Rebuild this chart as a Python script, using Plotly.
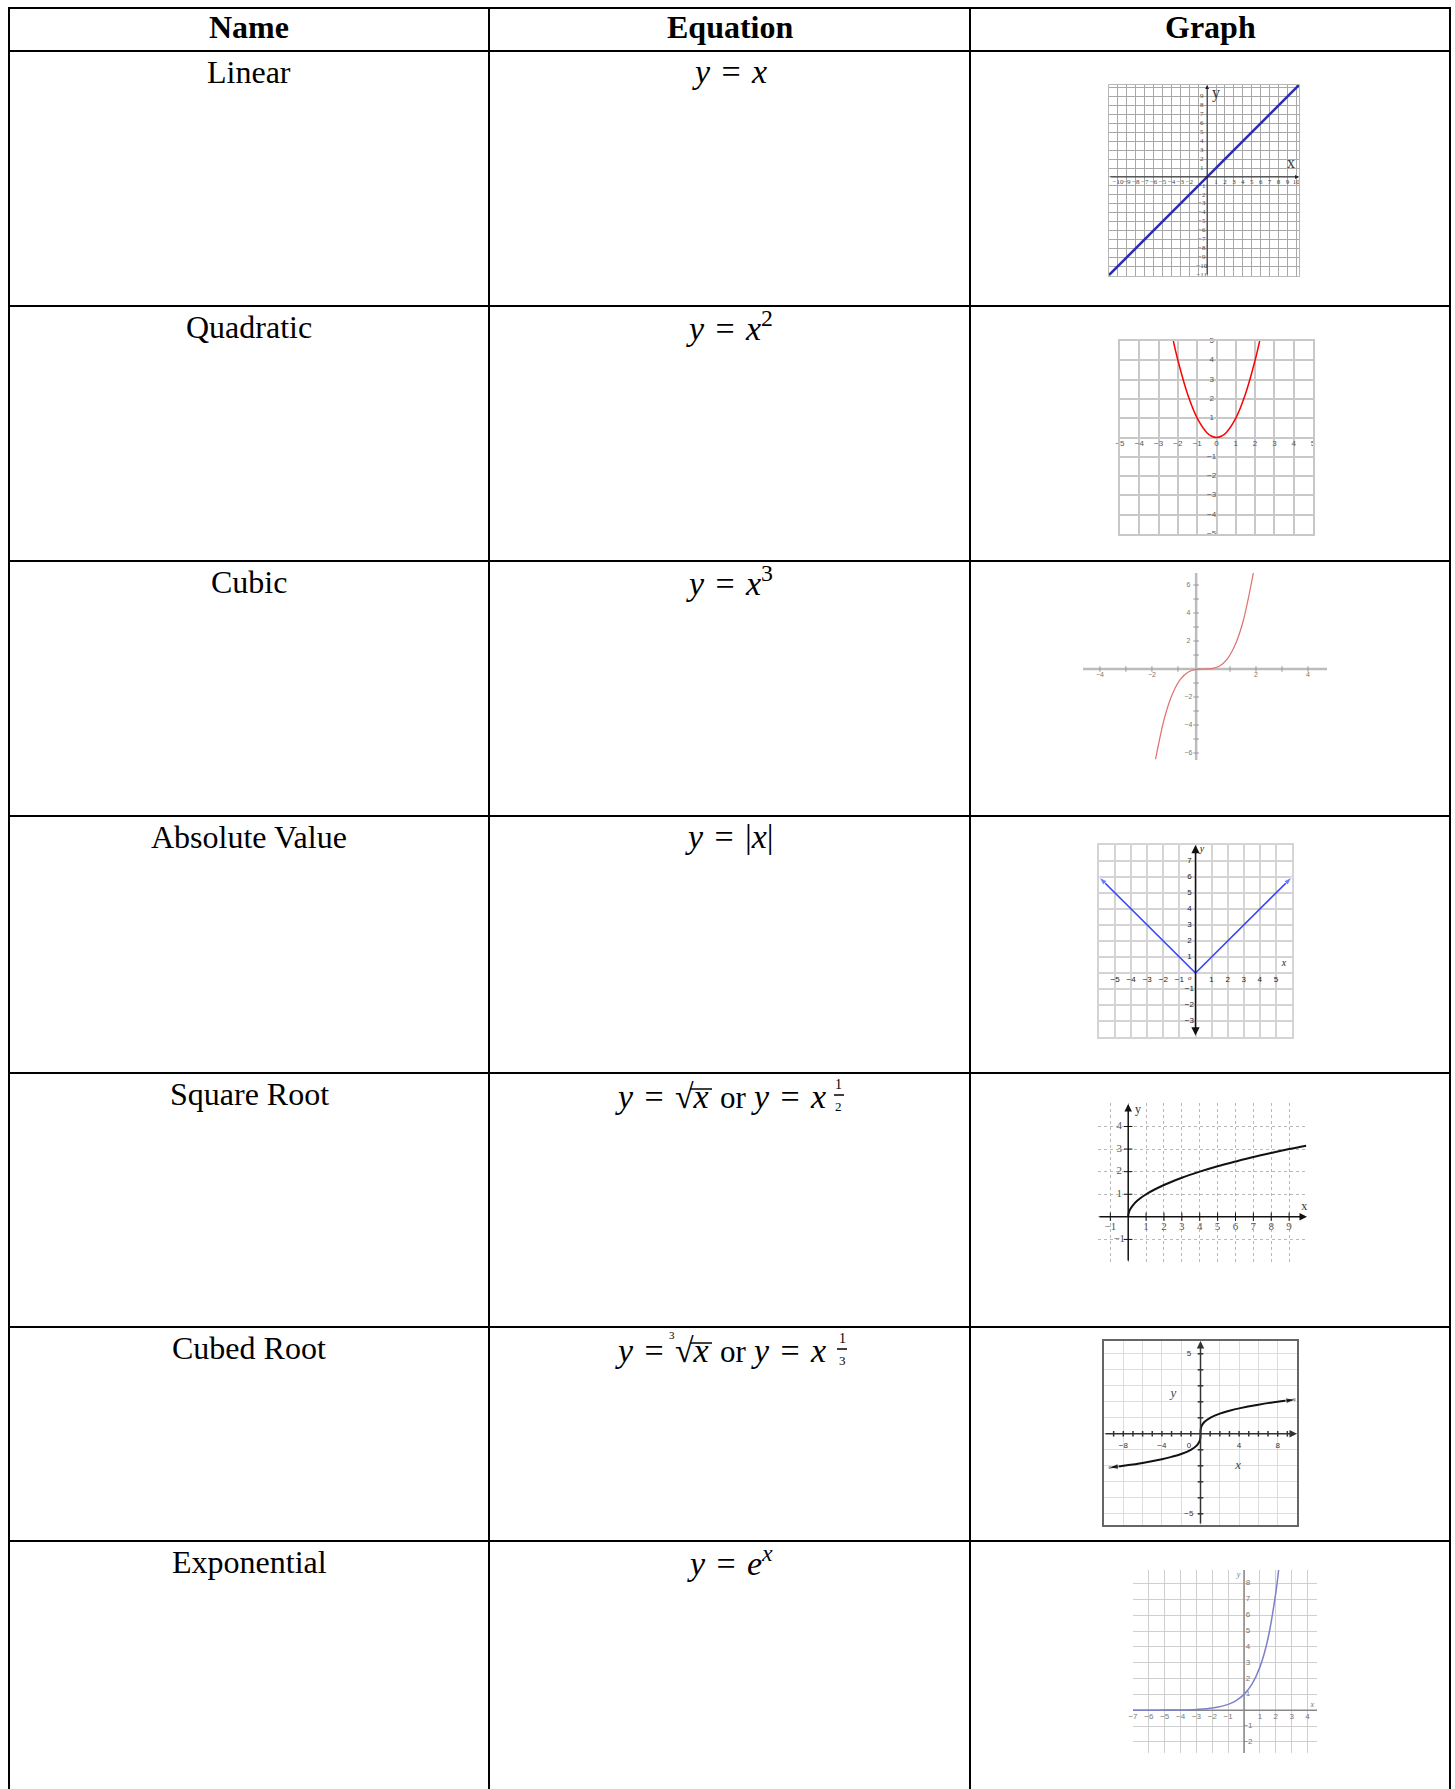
import plotly.graph_objects as go

W, H = 1455, 1789
SERIF = "Liberation Serif"
SANS = "Liberation Sans"
S = "\u2004"
M = "\u2212"

# ---------------- table text ----------------
headers = ["Name", "Equation", "Graph"]
names = ["Linear", "Quadratic", "Cubic", "Absolute Value", "Square Root", "Cubed Root", "Exponential"]
equations = [
    f"<i>y</i>{S}={S}<i>x</i>",
    f"<i>y</i>{S}={S}<i>x</i><sup>2</sup>",
    f"<i>y</i>{S}={S}<i>x</i><sup>3</sup>",
    f"<i>y</i>{S}={S}|<i>x</i>|",
    None,
    None,
    f"<i>y</i>{S}={S}<i>e</i><sup><i>x</i></sup>",
]
# (left part, root index, "or", right part, numerator, denominator)
root_eqs = [
    (f"<i>y</i>{S}={S}\u221a<i>x</i>", "", "or", f"<i>y</i>{S}={S}<i>x</i>", "1", "2"),
    (f"<i>y</i>{S}={S}\u221a<i>x</i>", "3", "or", f"<i>y</i>{S}={S}<i>x</i>", "1", "3"),
]

# ---------------- graph data ----------------
lin_x = [-11, 10.3]
lin_y = [-11, 10.3]

quad_x = [-2.236, -2, -1.5, -1, -0.5, -0.25, 0, 0.25, 0.5, 1, 1.5, 2, 2.236]
quad_y = [5, 4, 2.25, 1, 0.25, 0.0625, 0, 0.0625, 0.25, 1, 2.25, 4, 5]

cub_x = [-1.86, -1.5, -1.2, -0.9, -0.6, -0.3, 0, 0.3, 0.6, 0.9, 1.2, 1.5, 1.92]
cub_y = [-6.43, -3.375, -1.728, -0.729, -0.216, -0.027, 0, 0.027, 0.216, 0.729, 1.728, 3.375, 7.08]

abs_left_x = [0, -6]
abs_left_y = [0, 6]
abs_right_x = [0, 6]
abs_right_y = [0, 6]

sqrt_x = [0, 0.02, 0.1, 0.25, 0.5, 1, 2, 3, 4, 5, 6, 7, 8, 9, 9.95]
sqrt_y = [0, 0.14, 0.32, 0.5, 0.71, 1, 1.41, 1.73, 2, 2.24, 2.45, 2.65, 2.83, 3, 3.15]

cbrt_right_x = [0, 0.01, 0.05, 0.15, 0.4, 1, 2, 3, 4, 6, 8, 9.83]
cbrt_right_y = [0, 0.22, 0.37, 0.53, 0.74, 1, 1.26, 1.44, 1.59, 1.82, 2, 2.14]
cbrt_left_x = [0, -0.01, -0.05, -0.15, -0.4, -1, -2, -3, -4, -6, -8, -9.5]
cbrt_left_y = [0, -0.22, -0.37, -0.53, -0.74, -1, -1.26, -1.44, -1.59, -1.82, -2, -2.12]

exp_x = [-7, -6, -5, -4, -3, -2, -1, -0.5, 0, 0.5, 1, 1.5, 2, 2.18]
exp_y = [0.0009, 0.0025, 0.0067, 0.018, 0.05, 0.135, 0.368, 0.607, 1, 1.65, 2.72, 4.48, 7.39, 8.85]

# tick labels
g1_xt = [-10, -9, -8, -7, -6, -5, -4, -3, -2, 1, 2, 3, 4, 5, 6, 7, 8, 9, 10]
g1_yt = [9, 8, 7, 6, 5, 4, 3, 2, 1, -1, -2, -3, -4, -5, -6, -7, -8, -9, -10, -11]
g2_xt = [-5, -4, -3, -2, -1, 0, 1, 2, 3, 4, 5]
g2_yt = [5, 4, 3, 2, 1, -1, -2, -3, -4, -5]
g3_xt = [-4, -2, 2, 4]
g3_yt = [6, 4, 2, -2, -4, -6]
g3_xticks = [-4, -3, -2, -1, 1, 2, 3, 4]
g3_yticks = [-6, -5, -4, -3, -2, -1, 1, 2, 3, 4, 5, 6]
g4_xt = [-5, -4, -3, -2, -1, 1, 2, 3, 4, 5]
g4_yt = [7, 6, 5, 4, 3, 2, 1, -1, -2, -3]
g5_xt = [-1, 1, 2, 3, 4, 5, 6, 7, 8, 9]
g5_yt = [4, 3, 2, 1, -1]
g5_xticks = [-1, 1, 2, 3, 4, 5, 6, 7, 8, 9]
g5_yticks = [-1, 1, 2, 3, 4]
g6_xt = [-8, -4, 4, 8]
g6_yt = [5, -5]
g6_xticks = [-9, -8, -7, -6, -5, -4, -3, -2, -1, 1, 2, 3, 4, 5, 6, 7, 8, 9]
g6_yticks = [-5, -4, -3, -2, -1, 1, 2, 3, 4, 5]
g7_xt = [-7, -6, -5, -4, -3, -2, -1, 1, 2, 3, 4]
g7_yt = [8, 7, 6, 5, 4, 3, 2, 1, -1, -2]


def lab(v):
    return (M + str(-v)) if v < 0 else str(v)


# ---------------- layout helpers ----------------
row_tops = [51, 306, 561, 816, 1073, 1327, 1541]
h_lines = [8, 51, 306, 561, 816, 1073, 1327, 1541]
v_lines = [9, 489, 970, 1450]
col_c = [249, 729.5, 1210]

fig = go.Figure()
annotations = []
shapes = []


def px(x):
    return x / W


def py(y):
    return 1 - y / H


def txt(s, xp, base, size, family=SERIF, xanchor="center", color="black"):
    annotations.append(dict(text=s, x=px(xp), y=py(base - 0.34 * size), xref="paper", yref="paper",
                            xanchor=xanchor, yanchor="middle", showarrow=False,
                            font=dict(family=family, size=size, color=color)))


# table lines
for y in h_lines:
    shapes.append(dict(type="line", xref="paper", yref="paper", x0=px(v_lines[0] - 1), x1=px(v_lines[-1] + 1),
                       y0=py(y), y1=py(y), line=dict(color="black", width=2)))
for x in v_lines:
    shapes.append(dict(type="line", xref="paper", yref="paper", x0=px(x), x1=px(x),
                       y0=py(h_lines[0]), y1=py(H + 5), line=dict(color="black", width=2)))

# headers
for h, cx in zip(headers, col_c):
    txt(f"<b>{h}</b>", cx, 38, 32)

# names & equations
for i, n in enumerate(names):
    base = row_tops[i] + 32
    txt(n, col_c[0], base, 32)
    if equations[i] is not None:
        txt(equations[i], col_c[1], base, 34)

# root equations
for k, (segA, idx, segB, segC, num, den) in enumerate(root_eqs):
    top = row_tops[4 + k]
    base = top + 35
    txt(segA, 711, base, 34, xanchor="right")
    if idx:
        txt(idx, 672, base - 23, 11)
    txt(segB, 733, base, 31)
    txt(segC, 828, base, 34, xanchor="right")
    fx = 839 if k == 0 else 842
    txt(num, fx, base - 19, 14)
    txt(den, fx, base + 3, 13)
    shapes.append(dict(type="line", xref="paper", yref="paper", x0=px(fx - 5), x1=px(fx + 5),
                       y0=py(base - 13), y1=py(base - 13), line=dict(color="black", width=1.5)))
    # overline of the radical
    shapes.append(dict(type="line", xref="paper", yref="paper", x0=px(690), x1=px(712),
                       y0=py(base - 19), y1=py(base - 19), line=dict(color="black", width=1.5)))


# ---------------- graph panels ----------------
def axname(i):
    return ("x" if i == 1 else f"x{i}"), ("y" if i == 1 else f"y{i}")


def panel(i, box, xr, yr, xgrid=None, ygrid=None, border=None):
    x0, y0, x1, y1 = box
    xs = "xaxis" if i == 1 else f"xaxis{i}"
    ys = "yaxis" if i == 1 else f"yaxis{i}"
    xa, ya = axname(i)
    common = dict(zeroline=False, showticklabels=False, ticks="", fixedrange=True)
    xd = dict(domain=[px(x0), px(x1)], range=xr, anchor=ya, **common)
    yd = dict(domain=[py(y1), py(y0)], range=yr, anchor=xa, **common)
    for d, g in ((xd, xgrid), (yd, ygrid)):
        if g:
            d.update(showgrid=True, dtick=g["dtick"], tick0=0, gridcolor=g["color"], gridwidth=g["width"],
                     griddash=g.get("dash", "solid"))
        else:
            d.update(showgrid=False)
        if border:
            d.update(showline=True, mirror=True, linecolor=border[0], linewidth=border[1])
        else:
            d.update(showline=False)
    fig.update_layout({xs: xd, ys: yd})


def trace(i, x, y, **kw):
    xa, ya = axname(i)
    fig.add_trace(go.Scatter(x=x, y=y, xaxis=xa, yaxis=ya, showlegend=False, hoverinfo="skip",
                             cliponaxis=False, **kw))


def texts(i, x, y, t, size, color, family=SANS):
    trace(i, x, y, mode="text", text=t, textposition="middle center",
          textfont=dict(size=size, color=color, family=family))


def arrow(i, x0, y0, x1, y1, color, width, head=2, size=1.0, side="end"):
    xa, ya = axname(i)
    annotations.append(dict(x=x1, y=y1, ax=x0, ay=y0, xref=xa, yref=ya, axref=xa, ayref=ya,
                            showarrow=True, arrowhead=head, startarrowhead=head, arrowsize=size,
                            startarrowsize=size, arrowwidth=width, arrowcolor=color, arrowside=side,
                            text="", standoff=0, startstandoff=0))


def dline(i, x0, y0, x1, y1, color, width):
    xa, ya = axname(i)
    shapes.append(dict(type="line", xref=xa, yref=ya, x0=x0, y0=y0, x1=x1, y1=y1,
                       line=dict(color=color, width=width), layer="between"))


# 1 Linear
panel(1, (1109, 85, 1299, 276), [-11, 10.3], [-11.1, 10.3],
      xgrid=dict(dtick=1, color="#a8a8a8", width=1), ygrid=dict(dtick=1, color="#a8a8a8", width=1),
      border=("#b8b8b8", 1))
arrow(1, -11, 0, 10.3, 0, "#222", 1, head=2, size=0.8)
arrow(1, 0, -11.1, 0, 10.3, "#222", 1, head=2, size=0.8)
texts(1, g1_xt, [-0.6] * len(g1_xt), [lab(v) for v in g1_xt], 7, "#444", SERIF)
texts(1, [-0.6] * len(g1_yt), g1_yt, [lab(v) for v in g1_yt], 7, "#444", SERIF)
texts(1, [9.4, 1.0], [1.4, 9.3], ["x", "y"], 16, "#333", SERIF)
trace(1, lin_x, lin_y, mode="lines", line=dict(color="#2c2cb0", width=2.5))

# 2 Quadratic
panel(2, (1120, 341, 1313, 534), [-5, 5], [-5, 5],
      xgrid=dict(dtick=1, color="#c8c8c8", width=2), ygrid=dict(dtick=1, color="#c8c8c8", width=2),
      border=("#c8c8c8", 2))
arrow(2, -5.45, 0, 5.5, 0, "#333", 1, head=2, size=1.2)
arrow(2, 0, -5.4, 0, 5.4, "#333", 1, head=2, size=1.2)
texts(2, g2_xt, [-0.32] * len(g2_xt), [lab(v) for v in g2_xt], 8, "#555")
texts(2, [-0.25] * len(g2_yt), g2_yt, [lab(v) for v in g2_yt], 8, "#555")
texts(2, [5.25, 0.3], [0.35, 5.1], ["x", "y"], 8, "#555")
trace(2, quad_x, quad_y, mode="lines", line=dict(color="#ff0000", width=1.5, shape="spline"))

# 3 Cubic
panel(3, (1083, 573, 1327, 760), [-4.65, 4.73], [-6.5, 6.86])
dline(3, -4.65, 0, 4.73, 0, "#bcbcbc", 2.5)
dline(3, -0.3, -6.5, -0.3, 6.86, "#bcbcbc", 2.5)
trace(3, g3_xticks, [0] * len(g3_xticks), mode="markers",
      marker=dict(symbol="line-ns", size=4, line=dict(color="#999", width=1)))
trace(3, [-0.3] * len(g3_yticks), g3_yticks, mode="markers",
      marker=dict(symbol="line-ew", size=4, line=dict(color="#999", width=1)))
texts(3, g3_xt, [-0.45] * len(g3_xt), [lab(v) for v in g3_xt], 7, "#777")
texts(3, [-0.6] * len(g3_yt), g3_yt, [lab(v) for v in g3_yt], 7, "#777")
trace(3, cub_x, cub_y, mode="lines", line=dict(color="#e07070", width=1.2, shape="spline"))

# 4 Absolute value
panel(4, (1099, 845, 1292, 1037), [-6, 6], [-4, 8],
      xgrid=dict(dtick=1, color="#d4d4d4", width=1.5), ygrid=dict(dtick=1, color="#d4d4d4", width=1.5),
      border=("#d4d4d4", 1.5))
arrow(4, -6.05, 0, 6.05, 0, "#111", 1.5, head=2, size=1.1, side="end+start")
arrow(4, 0, -4.0, 0, 8.0, "#111", 1.5, head=2, size=1.1, side="end+start")
texts(4, g4_xt, [-0.45] * len(g4_xt), [lab(v) for v in g4_xt], 8, "#222")
texts(4, [-0.38] * len(g4_yt), g4_yt, [lab(v) for v in g4_yt], 8, "#222")
texts(4, [-0.35], [-0.35], ["<i>o</i>"], 7, "#222", SERIF)
texts(4, [5.5, 0.4], [0.6, 7.7], ["<i>x</i>", "<i>y</i>"], 10, "#222", SERIF)
for bx, by in ((abs_left_x, abs_left_y), (abs_right_x, abs_right_y)):
    trace(4, bx, by, mode="lines+markers", line=dict(color="#3344ff", width=1.6),
          marker=dict(symbol="arrow", size=[0, 9], angleref="previous", color="#3344ff"))

# 5 Square root
panel(5, (1098, 1103, 1307, 1262), [-1.69, 10.0], [-2.0, 5.04],
      xgrid=dict(dtick=1, color="#b8b8b8", width=1, dash="dot"),
      ygrid=dict(dtick=1, color="#b8b8b8", width=1, dash="dot"))
arrow(5, -1.69, 0, 10.0, 0, "#111", 1.5, head=2, size=1.0)
arrow(5, 0, -2.0, 0, 5.0, "#111", 1.5, head=2, size=1.0)
trace(5, g5_xticks, [0] * len(g5_xticks), mode="markers",
      marker=dict(symbol="line-ns", size=6, line=dict(color="#111", width=1)))
trace(5, [0] * len(g5_yticks), g5_yticks, mode="markers",
      marker=dict(symbol="line-ew", size=6, line=dict(color="#111", width=1)))
texts(5, g5_xt, [-0.45] * len(g5_xt), [lab(v) for v in g5_xt], 11, "#555", SERIF)
texts(5, [-0.5] * len(g5_yt), g5_yt, [lab(v) for v in g5_yt], 11, "#555", SERIF)
texts(5, [9.85, 0.55], [0.45, 4.75], ["x", "y"], 12, "#333", SERIF)
trace(5, sqrt_x, sqrt_y, mode="lines", line=dict(color="#111", width=2, shape="spline"))

# 6 Cubed root
panel(6, (1104, 1341, 1297, 1525), [-10, 10], [-5.7, 5.8],
      xgrid=dict(dtick=2, color="#dcdcdc", width=1), ygrid=dict(dtick=1, color="#dcdcdc", width=1),
      border=("#666", 1.5))
arrow(6, -10, 0, 10, 0, "#333", 1.5, head=2, size=1.0)
arrow(6, 0, -5.7, 0, 5.8, "#333", 1.5, head=2, size=1.0)
trace(6, g6_xticks, [0] * len(g6_xticks), mode="markers",
      marker=dict(symbol="line-ns", size=4, line=dict(color="#333", width=1.5)))
trace(6, [0] * len(g6_yticks), g6_yticks, mode="markers",
      marker=dict(symbol="line-ew", size=4, line=dict(color="#333", width=1.5)))
texts(6, g6_xt + [-1.2], [-0.75] * (len(g6_xt) + 1), [lab(v) for v in g6_xt] + ["0"], 8, "#333")
texts(6, [-1.2] * len(g6_yt), g6_yt, [lab(v) for v in g6_yt], 8, "#333")
texts(6, [-2.8, 3.9], [2.5, -2.0], ["<i>y</i>", "<i>x</i>"], 13, "#444", SERIF)
for bx, by in ((cbrt_right_x, cbrt_right_y), (cbrt_left_x, cbrt_left_y)):
    trace(6, bx, by, mode="lines+markers", line=dict(color="#111", width=2, shape="spline"),
          marker=dict(symbol="arrow", size=[0] * (len(bx) - 1) + [10], angleref="previous", color="#111"))

# 7 Exponential
panel(7, (1133, 1570, 1317, 1753), [-7, 4.6], [-2.7, 8.85],
      xgrid=dict(dtick=1, color="#cfcfcf", width=1.2), ygrid=dict(dtick=1, color="#cfcfcf", width=1.2))
dline(7, -7, 0, 4.6, 0, "#888", 1.5)
dline(7, 0, -2.7, 0, 8.85, "#888", 1.5)
texts(7, g7_xt, [-0.4] * len(g7_xt), [lab(v) for v in g7_xt], 8, "#777")
texts(7, [0.25] * len(g7_yt), g7_yt, [lab(v) for v in g7_yt], 8, "#777")
texts(7, [4.3, -0.35], [0.35, 8.55], ["<i>x</i>", "<i>y</i>"], 8, "#777", SERIF)
trace(7, exp_x, exp_y, mode="lines", line=dict(color="#8080c8", width=1.5, shape="spline"))

fig.update_layout(width=W, height=H, margin=dict(l=0, r=0, t=0, b=0), showlegend=False,
                  paper_bgcolor="white", plot_bgcolor="white",
                  annotations=annotations, shapes=shapes)

fig.write_html("out.html", config={"displayModeBar": False},
               post_script="document.body.style.margin='0';")
